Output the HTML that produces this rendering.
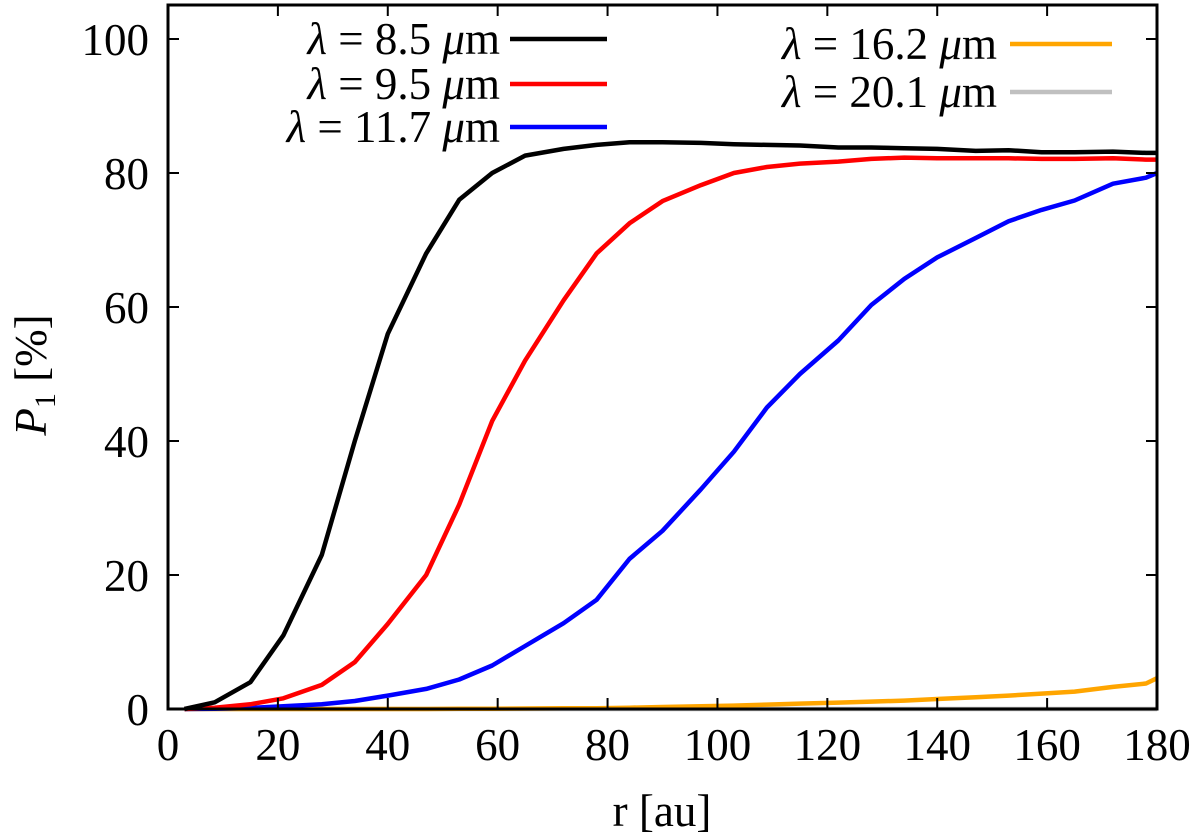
<!DOCTYPE html>
<html><head><meta charset="utf-8"><style>
body{margin:0;background:#fff}
svg{display:block;font-family:"Liberation Serif",serif}
</style></head><body>
<svg width="1200" height="837" viewBox="0 0 1200 837">
<g id="series"></g>
<g id="axes"></g>
<g id="legend"></g>
<text x="662" y="826" font-size="45" text-anchor="middle">r [au]</text>
<text transform="translate(46,375) rotate(-90)" font-size="45" text-anchor="middle"><tspan font-style="italic">P</tspan><tspan font-size="30" dy="9">1</tspan><tspan dy="-9"> [%]</tspan></text>
</svg>
<script>
const rVals=[3,8.5,15,21,28,34,40,47,53,59,65,72,78,84,90,97,103,109,115,122,128,134,140,147,153,159,165,172,178,180];
const p85=[0,1,4,11,23,40,56,68,76,80,82.6,83.6,84.2,84.6,84.6,84.5,84.3,84.2,84.1,83.8,83.8,83.7,83.6,83.3,83.4,83.1,83.1,83.2,83.0,83];
const p95=[0,0.2,0.7,1.6,3.6,7,12.7,20,30.5,43,52,61,68,72.5,75.8,78.2,80,80.9,81.4,81.7,82.1,82.3,82.2,82.2,82.2,82.1,82.1,82.2,82,82];
const p117=[0,0.05,0.15,0.4,0.7,1.2,2,3,4.4,6.5,9.4,12.8,16.3,22.4,26.6,32.8,38.4,45,50,55,60.3,64.2,67.4,70.3,72.8,74.5,75.9,78.4,79.3,80];
const p162=[0,0,0,0,0,0,0,0,0.05,0.05,0.08,0.1,0.1,0.2,0.3,0.4,0.5,0.65,0.8,0.95,1.1,1.25,1.5,1.75,2,2.3,2.6,3.3,3.8,4.6];
const p201=[0,0,0,0,0,0,0,0,0,0,0,0,0,0,0,0,0,0,0,0,0,0,0,0,0,0,0,0,0,0];
const xTicks=[0,20,40,60,80,100,120,140,160,180];
const yTicks=[0,20,40,60,80,100];
const seriesNames=["λ = 8.5 μm","λ = 9.5 μm","λ = 11.7 μm","λ = 16.2 μm","λ = 20.1 μm"];
const NS="http://www.w3.org/2000/svg";
const L=168,R=1157,T=5,B=709;
const xs=v=>L+(R-L)*v/180;
const ys=v=>B-(B-39)*v/100;
function mk(t,a,p){const e=document.createElementNS(NS,t);for(const k in a)e.setAttribute(k,a[k]);p.appendChild(e);return e;}
const sg=document.getElementById('series'),ag=document.getElementById('axes'),lg=document.getElementById('legend');
const series=[[p201,'#c0c0c0'],[p162,'#ffa500'],[p117,'#0000ff'],[p95,'#ff0000'],[p85,'#000000']];
const snames=['series-20-1um','series-16-2um','series-11-7um','series-9-5um','series-8-5um'];
series.forEach((s,i)=>{
 const d=s[0].map((v,j)=>(j?'L':'M')+xs(rVals[j]).toFixed(1)+','+ys(v).toFixed(1)).join('');
 const p=mk('path',{d:d,fill:'none',stroke:s[1],'stroke-width':4.5,'stroke-linejoin':'round'},sg);
 
 
});
const fr=mk('rect',{x:L,y:T,width:R-L,height:B-T,fill:'none',stroke:'#000','stroke-width':3},ag);


xTicks.forEach(v=>{
 const x=xs(v);
 mk('line',{x1:x,y1:B,x2:x,y2:B-11,stroke:'#000','stroke-width':2},ag);
 mk('line',{x1:x,y1:T,x2:x,y2:T+11,stroke:'#000','stroke-width':2},ag);
 const t=mk('text',{x:x,y:B+51,'font-size':45,'text-anchor':'middle'},ag);t.textContent=v;
 
 
});
yTicks.forEach(v=>{
 const y=ys(v);
 mk('line',{x1:L,y1:y,x2:L+11,y2:y,stroke:'#000','stroke-width':2},ag);
 mk('line',{x1:R,y1:y,x2:R-11,y2:y,stroke:'#000','stroke-width':2},ag);
 const t=mk('text',{x:149,y:y+16,'font-size':45,'text-anchor':'end'},ag);t.textContent=v;
 
 
});
const leg=[[0,500,510,607,39,'#000'],[1,500,510,607,84,'#ff0000'],[2,500,510,607,127,'#0000ff'],[3,997,1010,1112,44,'#ffa500'],[4,997,1010,1112,92,'#c0c0c0']];
leg.forEach(e=>{
 const g=mk('g',{},lg);
 
 
 const t=mk('text',{x:e[1],y:e[4]+15,'font-size':45,'text-anchor':'end'},g);
 t.innerHTML='<tspan font-style="italic">λ</tspan> = '+seriesNames[e[0]].split(' ')[2]+'<tspan font-style="italic"> μ</tspan>m';
 mk('line',{x1:e[2],y1:e[4],x2:e[3],y2:e[4],stroke:e[5],'stroke-width':4.5},g);
});
</script>
</body></html>
